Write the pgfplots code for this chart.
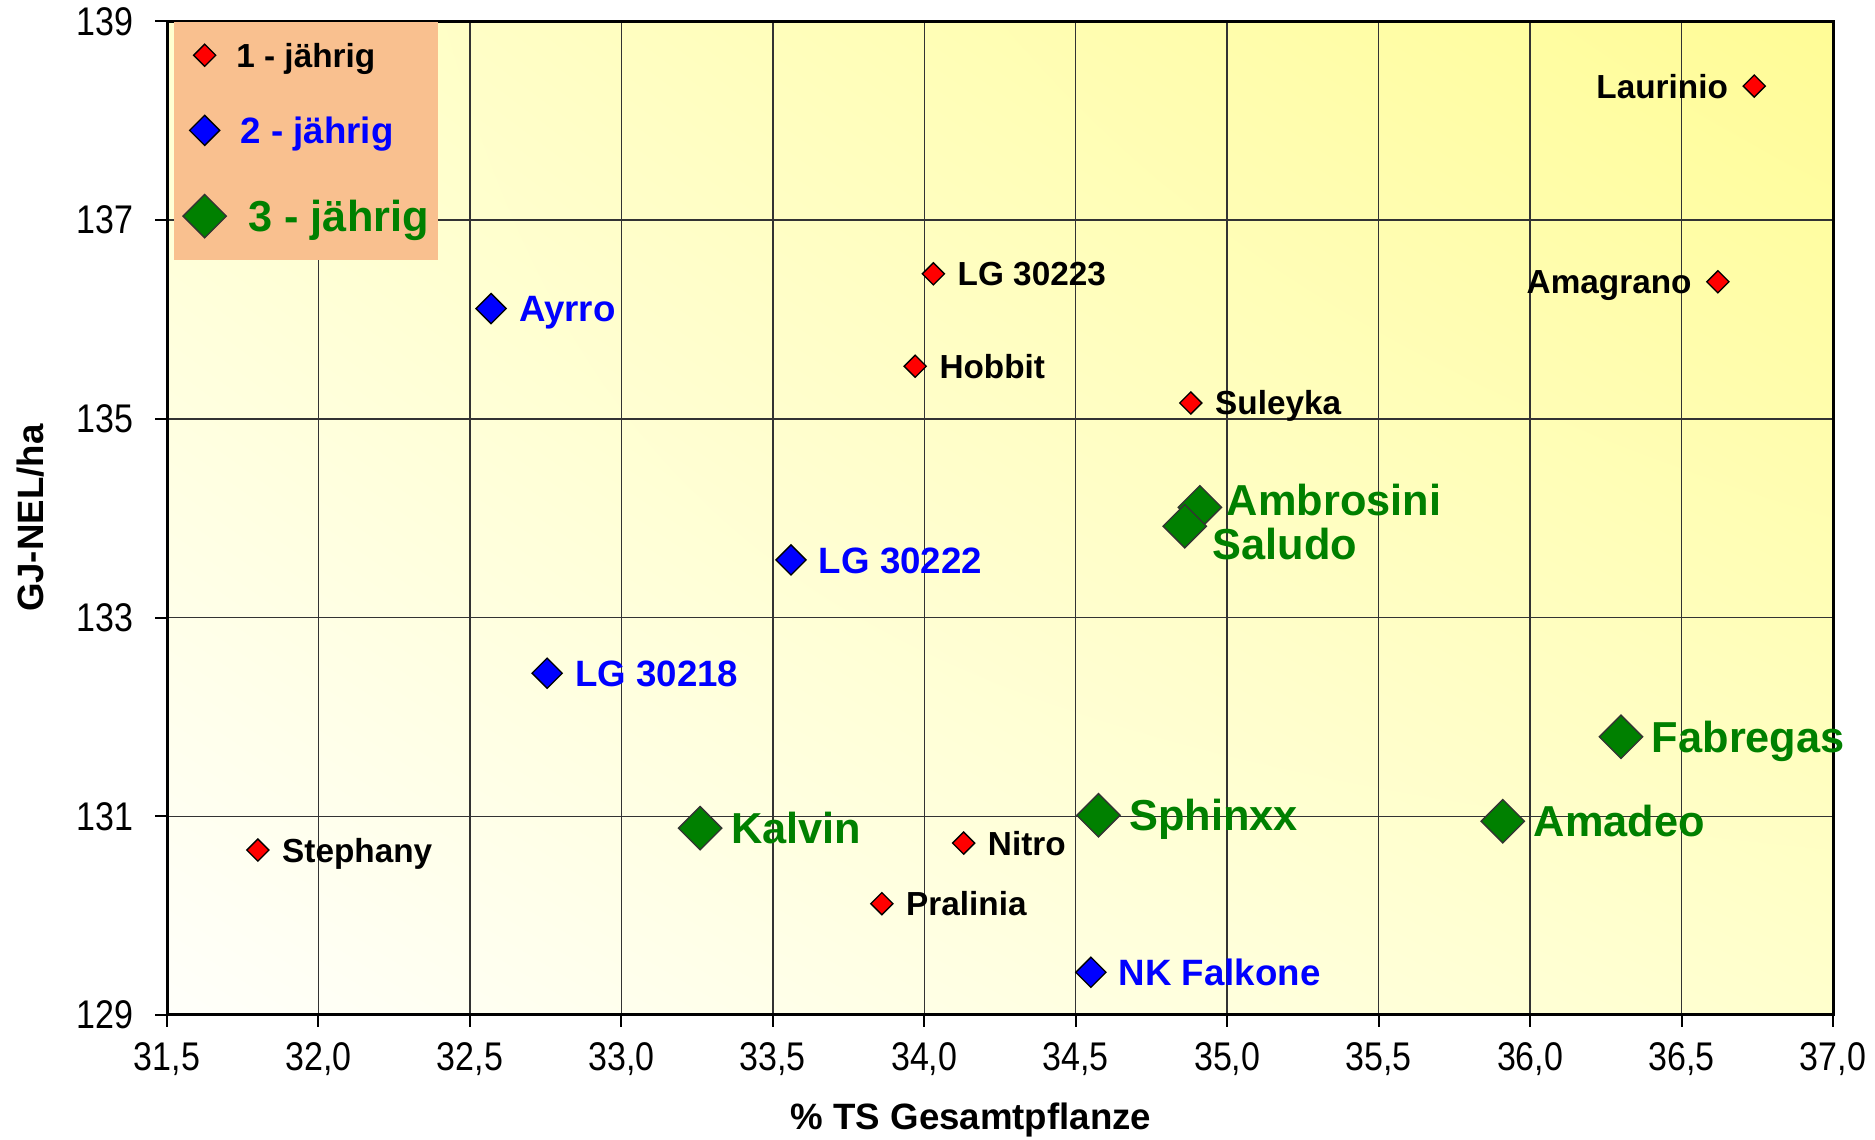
\documentclass[border=0pt]{standalone}
\usepackage{fontspec}
\setmainfont{Liberation Sans}
\newfontfamily\tickfont{Liberation Sans}[FakeStretch=0.85]
\usepackage{pgfplots}
\pgfplotsset{compat=1.18}
\usetikzlibrary{shadings,calc}

\definecolor{ptred}{RGB}{255,0,0}
\definecolor{ptblue}{RGB}{0,0,255}
\definecolor{ptgreen}{RGB}{0,128,0}
\definecolor{legbg}{RGB}{249,192,143}
\definecolor{bgLL}{RGB}{255,255,250}
\definecolor{bgUL}{RGB}{255,255,208}
\definecolor{bgLR}{RGB}{255,255,205}
\definecolor{bgUR}{RGB}{255,252,150}

\pgfplotsset{
  redmark/.style={only marks, mark=square*, mark size=2.35pt,
    mark options={rotate=45, fill=ptred, draw=black, line width=0.4pt}},
  bluemark/.style={only marks, mark=square*, mark size=3.2pt,
    mark options={rotate=45, fill=ptblue, draw=black, line width=0.4pt}},
  greenmark/.style={only marks, mark=square*, mark size=4.6pt,
    mark options={rotate=45, fill=ptgreen, draw=black!80, line width=0.4pt}},
  lab/.style n args={5}{nodes near coords, point meta=explicit symbolic,
    every node near coord/.append style={anchor=#1, xshift=#2, yshift=#3, inner sep=0pt,
      font=\bfseries\fontsize{#4}{#4}\selectfont, text=#5}},
}

\begin{document}
\begin{tikzpicture}
\begin{axis}[
  at={(50.1pt,37.5pt)}, anchor=south west,
  scale only axis, width=499.8pt, height=298.05pt,
  xmin=31.5, xmax=37, ymin=129, ymax=139,
  xtick={31.5,32.0,32.5,33.0,33.5,34.0,34.5,35.0,35.5,36.0,36.5,37.0},
  ytick={129,131,133,135,137,139},
  xtick pos=left, ytick pos=left,
  tick align=outside, major tick length=3.5pt,
  tick style={black, line width=0.6pt},
  grid=major, major grid style={black!80, line width=0.45pt},
  axis line style={black, line width=0.9pt},
  axis background/.style={shade, lower left=bgLL, upper left=bgUL, lower right=bgLR, upper right=bgUR},
  /pgf/number format/assume math mode=true,
  ticklabel style={font=\tickfont\fontsize{12}{14}\selectfont},
  xticklabel style={/pgf/number format/.cd, fixed, fixed zerofill, precision=1, use comma, /tikz/.cd, yshift=-1.2pt},
  yticklabel style={/pgf/number format/.cd, fixed, /tikz/.cd, xshift=-3.1pt},
  xlabel={\% TS Gesamtpflanze},
  xlabel style={font=\bfseries\fontsize{11}{13}\selectfont, at={($(axis description cs:0.4826,0)+(0pt,-34.5pt)$)}, anchor=base},
  ylabel={GJ-NEL/ha},
  ylabel style={font=\bfseries\fontsize{11}{13}\selectfont, at={($(axis description cs:0,0.5)+(-36.9pt,0pt)$)}, anchor=base},
  legend cell align=left,
  legend style={at={(0.0036,1)}, anchor=north west, fill=legbg, draw=none,
    inner xsep=2.8pt, inner ysep=6.6pt, row sep=14.7pt, column sep=3pt,
    nodes={inner sep=0pt, text height=0pt, text depth=0pt}},
]
% 1-jaehrig
\addplot[forget plot, redmark, lab={base west}{7.1pt}{-3.6pt}{10}{black}] coordinates {
  (34.03,136.46) [LG 30223]
  (33.97,135.53) [Hobbit]
  (34.88,135.16) [Suleyka]
  (31.80,130.66) [Stephany]
  (34.13,130.73) [Nitro]
  (33.86,130.12) [Pralinia]
};
\addplot[forget plot, redmark, lab={base east}{-7.7pt}{-3.6pt}{10}{black}] coordinates {
  (36.74,138.35) [Laurinio]
  (36.62,136.38) [Amagrano]
};
% 2-jaehrig
\addplot[forget plot, bluemark, lab={base west}{8.2pt}{-3.95pt}{11}{ptblue}] coordinates {
  (32.57,136.11) [Ayrro]
  (33.56,133.58) [LG 30222]
  (32.755,132.44) [LG 30218]
  (34.55,129.43) [NK Falkone]
};
% 3-jaehrig
\addplot[forget plot, greenmark, lab={base west}{7.9pt}{-2.55pt}{13}{ptgreen}] coordinates {
  (34.91,134.11) [Ambrosini]
};
\addplot[forget plot, greenmark, lab={base west}{8.2pt}{-10.05pt}{13}{ptgreen}] coordinates {
  (34.86,133.92) [Saludo]
};
\addplot[forget plot, greenmark, lab={base west}{9.1pt}{-4.65pt}{13}{ptgreen}] coordinates {
  (33.26,130.88) [Kalvin]
  (34.575,131.01) [Sphinxx]
  (35.91,130.95) [Amadeo]
  (36.30,131.80) [Fabregas]
};

\addlegendimage{redmark}
\addlegendentry{\fontsize{10}{12}\selectfont\bfseries\raisebox{-0.36em}{1 - jährig}}
\addlegendimage{bluemark}
\addlegendentry{\hspace*{1.3pt}\fontsize{11}{13}\selectfont\bfseries\color{ptblue}\raisebox{-0.36em}{2 - jährig}}
\addlegendimage{greenmark}
\addlegendentry{\hspace*{3.6pt}\fontsize{13}{15}\selectfont\bfseries\color{ptgreen}\raisebox{-0.36em}{3 - jährig}}
\end{axis}
\pgfresetboundingbox
\path[use as bounding box] (0,0) rectangle (562.5pt,342pt);
\end{tikzpicture}
\end{document}
